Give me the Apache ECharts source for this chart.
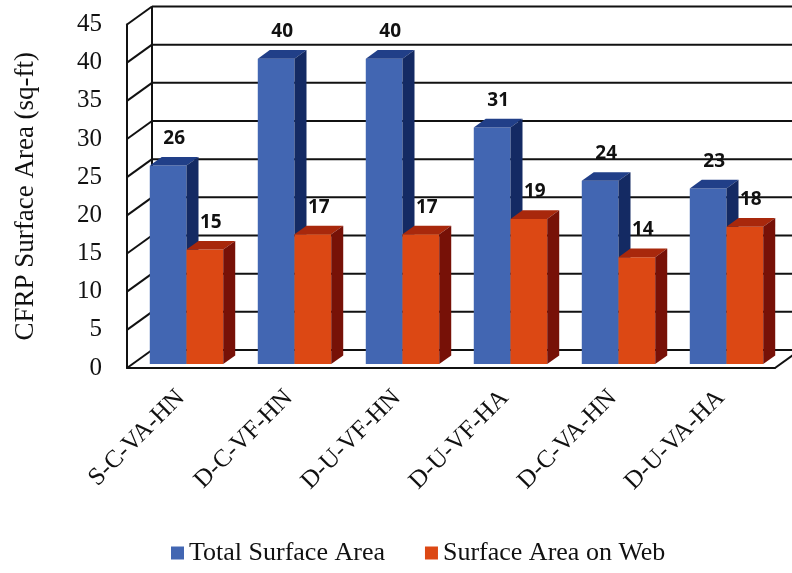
<!DOCTYPE html>
<html>
<head>
<meta charset="utf-8">
<script src="https://cdn.jsdelivr.net/npm/echarts@6/dist/echarts.min.js"></script>
<style>
  html, body { margin: 0; padding: 0; background: #ffffff; }
  #chart { width: 792px; height: 573px; }
</style>
</head>
<body>
<div id="chart"></div>
<script>
// Strengthening schemes and their CFRP areas (sq-ft)
const categories = ['S-C-VA-HN', 'D-C-VF-HN', 'D-U-VF-HN', 'D-U-VF-HA', 'D-C-VA-HN', 'D-U-VA-HA'];
const totalArea = [26, 40, 40, 31, 24, 23];
const webArea = [15, 17, 17, 19, 14, 18];
const yTicks = [0, 5, 10, 15, 20, 25, 30, 35, 40, 45];
const seriesNames = ['Total Surface Area', 'Surface Area on Web'];

// Oblique projection used for the 3-D look: vector from the front plane to the back wall
const DEPTH = { dx: 25, dy: -18 };
const BAR_FRONT = 0.22;   // bar front face, as a fraction of the wall depth
const BAR_BACK = 0.70;    // bar back face
const BAR_FRAC = 0.34;    // bar width, as a fraction of the category band

const SERIF = '"Liberation Serif", "Times New Roman", serif';
const INK = '#111111';

const shades = {
  total: { front: '#4266b2', top: '#213f88', side: '#142a63' },
  web:   { front: '#dc4814', top: '#a8280c', side: '#771107' }
};

function barRenderer(shade, side) {
  return function (params, api) {
    const idx = api.value(0);
    const val = api.value(1);
    const top = api.coord([idx, val]);
    const base = api.coord([idx, 0]);
    const band = api.size([1, 0])[0];
    const w = band * BAR_FRAC;
    const left = top[0] + side * w;
    const ox = BAR_FRONT * DEPTH.dx, oy = BAR_FRONT * DEPTH.dy;
    const ddx = (BAR_BACK - BAR_FRONT) * DEPTH.dx;
    const ddy = (BAR_BACK - BAR_FRONT) * DEPTH.dy;
    const x0 = left + ox, x1 = left + w + ox;
    const yt = top[1] + oy, yb = base[1] + oy;
    return {
      type: 'group',
      children: [
        { type: 'polygon', shape: { points: [[x0, yt], [x1, yt], [x1, yb], [x0, yb]] },
          style: { fill: shade.front } },
        { type: 'polygon', shape: { points: [[x0, yt], [x1, yt], [x1 + ddx, yt + ddy], [x0 + ddx, yt + ddy]] },
          style: { fill: shade.top } },
        { type: 'polygon', shape: { points: [[x1, yt], [x1 + ddx, yt + ddy], [x1 + ddx, yb + ddy], [x1, yb]] },
          style: { fill: shade.side } },
        { type: 'text',
          style: {
            text: String(val),
            x: (x0 + x1) / 2 + ddx / 2,
            y: yt + ddy - 9,
            align: 'center',
            verticalAlign: 'bottom',
            fill: INK,
            font: 'bold 19px "Open Sans", "Liberation Sans", sans-serif'
          } }
      ]
    };
  };
}

// Back wall gridlines, left wall diagonals and the floor outline
function wallRenderer(params, api) {
  const cs = params.coordSys;
  const v = api.value(1);
  const y = api.coord([0, v])[1];
  const line = (a, b) => ({ type: 'line', shape: { x1: a[0], y1: a[1], x2: b[0], y2: b[1] },
    style: { stroke: INK, lineWidth: 2 } });
  const bx = cs.x + DEPTH.dx, by = y + DEPTH.dy;
  const children = [
    line([cs.x, y], [bx, by]),
    line([bx, by], [cs.x + cs.width + DEPTH.dx, by])
  ];
  if (params.dataIndex === 0) {
    children.push(line([bx, cs.y + DEPTH.dy], [bx, by]));
    const fr = [cs.x + cs.width, cs.y + cs.height];
    children.push(line(fr, [fr[0] + DEPTH.dx, fr[1] + DEPTH.dy]));
  }
  return { type: 'group', children };
}

const chart = echarts.init(document.getElementById('chart'), null, { renderer: 'canvas' });

chart.setOption({
  backgroundColor: '#ffffff',
  animation: false,
  grid: { left: 127, right: 17, top: 24.5, bottom: 205 },
  legend: {
    data: seriesNames,
    left: 166,
    top: 535,
    icon: 'rect',
    itemWidth: 13,
    itemHeight: 13,
    itemGap: 40,
    textStyle: { fontFamily: SERIF, fontSize: 26, color: INK }
  },
  xAxis: {
    type: 'category',
    data: categories,
    axisLine: { lineStyle: { color: INK, width: 2 } },
    axisTick: { alignWithLabel: true, length: 7, lineStyle: { color: INK, width: 2 } },
    axisLabel: { rotate: 45, margin: 26, fontFamily: SERIF, fontSize: 25, color: INK, interval: 0 },
    splitLine: { show: false }
  },
  yAxis: {
    type: 'value',
    min: yTicks[0],
    max: yTicks[yTicks.length - 1],
    interval: yTicks[1] - yTicks[0],
    name: 'CFRP Surface Area (sq-ft)',
    nameLocation: 'middle',
    nameGap: 88,
    nameTextStyle: { fontFamily: SERIF, fontSize: 27, color: INK },
    axisLine: { show: true, lineStyle: { color: INK, width: 2 } },
    axisTick: { show: false },
    axisLabel: { margin: 25, fontFamily: SERIF, fontSize: 25, color: INK },
    splitLine: { show: false }
  },
  series: [
    {
      type: 'custom',
      name: 'wall',
      silent: true,
      z: 1,
      renderItem: wallRenderer,
      encode: { x: 0, y: 1 },
      data: yTicks.map(v => [0, v])
    },
    {
      type: 'custom',
      name: seriesNames[0],
      z: 3,
      itemStyle: { color: shades.total.front },
      renderItem: barRenderer(shades.total, -1),
      encode: { x: 0, y: 1 },
      data: totalArea.map((v, i) => [i, v])
    },
    {
      type: 'custom',
      name: seriesNames[1],
      z: 4,
      itemStyle: { color: shades.web.front },
      renderItem: barRenderer(shades.web, 0),
      encode: { x: 0, y: 1 },
      data: webArea.map((v, i) => [i, v])
    }
  ]
});
</script>
</body>
</html>
